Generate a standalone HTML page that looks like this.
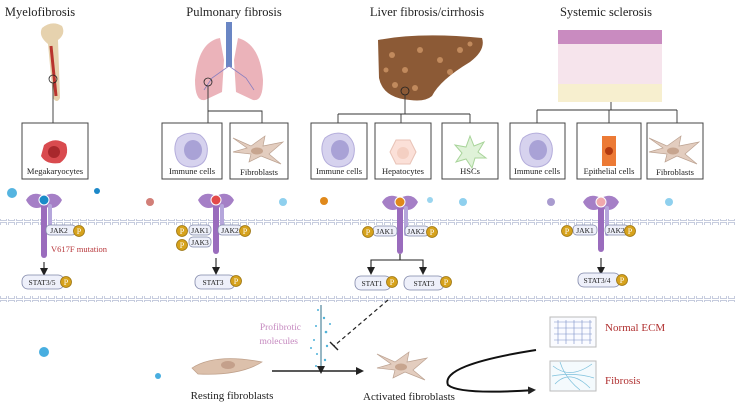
<!DOCTYPE html>
<html><head><meta charset="utf-8"><style>
body{margin:0;background:#fff}
svg{display:block;font-family:"Liberation Serif",serif}
</style></head><body>
<svg width="736" height="410" viewBox="0 0 736 410" xmlns="http://www.w3.org/2000/svg">
<defs>
<marker id="ah" markerWidth="8" markerHeight="8" refX="6" refY="4" orient="auto" markerUnits="userSpaceOnUse"><path d="M0,0 L8,4 L0,8 z" fill="#222"/></marker>
<pattern id="mem" width="8" height="6" patternUnits="userSpaceOnUse"><rect x="0.5" y="0.5" width="6" height="4" fill="none" stroke="#b8bfd6" stroke-width="0.8"/></pattern>
<g id="imm"><path d="M-14,-12 Q-4,-20 8,-15 Q17,-8 15,4 Q13,16 0,17 Q-13,17 -16,6 Q-19,-4 -14,-12z" fill="#d6d2ee" stroke="#b4addb"/><ellipse cx="1" cy="0" rx="9" ry="10" fill="#a9a2d6"/></g>
<g id="fib"><path d="M-26,-12 L-8,-4 L6,-14 L4,-4 L24,-8 L10,4 L22,14 L2,6 L-10,12 L-8,4 L-26,2 L-12,-2z" fill="#e3cdbf" stroke="#bca291" stroke-width="0.7"/><ellipse cx="-2" cy="1" rx="6" ry="3.5" fill="#c7a58f"/></g>
<g id="P"><circle r="5.5" fill="#d6a21c" stroke="#9c7410" stroke-width="0.8"/><text y="3" text-anchor="middle" font-size="8" fill="#fff">P</text></g>
</defs>

<g font-size="12.5" fill="#222" text-anchor="middle">
<text x="40" y="16">Myelofibrosis</text>
<text x="234" y="16">Pulmonary fibrosis</text>
<text x="427" y="16">Liver fibrosis/cirrhosis</text>
<text x="606" y="16">Systemic sclerosis</text>
</g>

<!-- bone -->
<path d="M42,28 Q52,20 62,26 Q66,34 58,40 L60,98 Q57,104 53,98 L48,44 Q38,36 42,28z" fill="#e6d2ae"/>
<path d="M51,46 L56,96" stroke="#b8342e" stroke-width="3"/>
<circle cx="53" cy="79" r="4" fill="none" stroke="#222" stroke-width="0.8"/>
<!-- lungs -->
<rect x="226" y="22" width="6" height="45" fill="#6a86c4"/>
<path d="M220,38 Q198,42 195,80 Q195,102 205,100 L222,92 L224,60z" fill="#ebb3ba"/>
<path d="M238,38 Q260,44 263,80 Q263,102 253,100 L236,92 L234,60z" fill="#ebb3ba"/>
<path d="M229,66 L212,78 L204,90 M229,66 L246,78 L254,90" stroke="#8a7fc0" stroke-width="0.8" fill="none"/>
<circle cx="208" cy="82" r="4" fill="none" stroke="#222" stroke-width="0.8"/>
<!-- liver -->
<path d="M378,40 Q420,32 482,38 Q486,50 470,62 Q440,80 432,96 Q425,102 410,100 Q383,98 379,78z" fill="#8c5a36"/>
<g fill="#c18a5d"><circle cx="392" cy="55" r="3"/><circle cx="405" cy="70" r="3"/><circle cx="420" cy="50" r="3"/><circle cx="440" cy="60" r="3"/><circle cx="460" cy="50" r="3"/><circle cx="395" cy="85" r="3"/><circle cx="415" cy="88" r="3"/><circle cx="450" cy="72" r="3"/><circle cx="470" cy="44" r="2.5"/><circle cx="386" cy="70" r="2.5"/></g>
<circle cx="405" cy="91" r="4" fill="none" stroke="#222" stroke-width="0.8"/>
<!-- skin -->
<rect x="558" y="30" width="104" height="14" fill="#c98bc0"/>
<rect x="558" y="44" width="104" height="40" fill="#f6e4ec"/>
<rect x="558" y="84" width="104" height="18" fill="#f7efcf"/>

<g stroke="#333" stroke-width="0.9" fill="none">
<path d="M53,83 V123"/>
<path d="M208,86 V111 M208,111 H262 V123 M208,111 V123"/>
<path d="M405,95 V114 M338,114 H470 M338,114 V123 M401,114 V123 M470,114 V123"/>
<path d="M611,102 V110 M537,110 H677 M537,110 V123 M609,110 V123 M677,110 V123"/>
</g>
<g fill="#fff" stroke="#444" stroke-width="1">
<rect x="22" y="123" width="66" height="56"/>
<rect x="162" y="123" width="60" height="56"/>
<rect x="230" y="123" width="58" height="56"/>
<rect x="311" y="123" width="56" height="56"/>
<rect x="375" y="123" width="56" height="56"/>
<rect x="442" y="123" width="56" height="56"/>
<rect x="510" y="123" width="55" height="56"/>
<rect x="577" y="123" width="64" height="56"/>
<rect x="647" y="123" width="56" height="56"/>
</g>
<g><path d="M44,145 Q55,136 66,144 Q70,156 60,163 Q46,165 41,156z" fill="#d94b4f"/><circle cx="54" cy="152" r="6" fill="#a8282c"/></g>
<use href="#imm" x="192" y="150"/><use href="#fib" x="259" y="150"/>
<use href="#imm" x="339" y="150"/>
<path d="M396,140 L410,140 L416,152 L410,164 L396,164 L390,152z" fill="#fbe0d8" stroke="#e8c2b6"/><circle cx="403" cy="153" r="6" fill="#f4cfc2"/>
<path d="M470,136 L474,146 L484,142 L478,152 L486,158 L475,158 L472,168 L466,159 L456,162 L462,153 L455,145 L466,147z" fill="#dff2d8" stroke="#a8d49a"/>
<use href="#imm" x="537" y="150"/>
<rect x="602" y="136" width="14" height="30" fill="#ec7a35"/><circle cx="609" cy="151" r="4" fill="#b33a10"/>
<use href="#fib" x="675" y="150"/>
<g font-size="8.5" fill="#222" text-anchor="middle">
<text x="55" y="174">Megakaryocytes</text>
<text x="192" y="174">Immune cells</text>
<text x="259" y="175">Fibroblasts</text>
<text x="339" y="174">Immune cells</text>
<text x="403" y="174">Hepatocytes</text>
<text x="470" y="174">HSCs</text>
<text x="537" y="174">Immune cells</text>
<text x="609" y="174">Epithelial cells</text>
<text x="675" y="175">Fibroblasts</text>
</g>

<rect x="0" y="219" width="736" height="6" fill="url(#mem)"/>
<rect x="0" y="296" width="736" height="6" fill="url(#mem)"/>

<g><circle cx="12" cy="193" r="5" fill="#55b4e0"/><circle cx="97" cy="191" r="3" fill="#1c88c8"/><circle cx="150" cy="202" r="4" fill="#d27f78"/><circle cx="283" cy="202" r="4" fill="#8fd0ee"/><circle cx="324" cy="201" r="4" fill="#e0891b"/><circle cx="430" cy="200" r="3" fill="#9ad5ef"/><circle cx="463" cy="202" r="4" fill="#8fd0ee"/><circle cx="551" cy="202" r="4" fill="#a99bcf"/><circle cx="669" cy="202" r="4" fill="#8fd0ee"/><circle cx="44" cy="352" r="5" fill="#48aee0"/><circle cx="158" cy="376" r="3" fill="#48aee0"/></g>

<g>
<path d="M26,200 Q32,190 44,196 Q56,190 62,200 Q56,212 44,206 Q32,212 26,200z" fill="#a57fc6"/>
<rect x="41" y="204" width="6" height="54" rx="3" fill="#9a6cbd"/><rect x="48" y="204" width="4" height="30" rx="2" fill="#b5a6db"/>
<circle cx="44" cy="200" r="5" fill="#1a8bc8" stroke="#fff"/>
<path d="M198,200 Q204,190 216,196 Q228,190 234,200 Q228,212 216,206 Q204,212 198,200z" fill="#a57fc6"/>
<rect x="213" y="204" width="6" height="50" rx="3" fill="#9a6cbd"/><rect x="220" y="204" width="4" height="30" rx="2" fill="#b5a6db"/>
<circle cx="216" cy="200" r="5" fill="#e24a4a" stroke="#fff"/>
<path d="M382,202 Q388,192 400,198 Q412,192 418,202 Q412,214 400,208 Q388,214 382,202z" fill="#a57fc6"/>
<rect x="397" y="206" width="6" height="48" rx="3" fill="#9a6cbd"/><rect x="404" y="206" width="4" height="30" rx="2" fill="#b5a6db"/>
<circle cx="400" cy="202" r="5" fill="#e0891b" stroke="#fff"/>
<path d="M583,202 Q589,192 601,198 Q613,192 619,202 Q613,214 601,208 Q589,214 583,202z" fill="#a57fc6"/>
<rect x="598" y="206" width="6" height="46" rx="3" fill="#9a6cbd"/><rect x="605" y="206" width="4" height="30" rx="2" fill="#b5a6db"/>
<circle cx="601" cy="202" r="5" fill="#f0a8ad" stroke="#fff"/>
</g>
<g fill="#eef0fa" stroke="#7f86a8" stroke-width="0.7">
<rect x="46" y="225" width="30" height="10" rx="4"/>
<rect x="189" y="225" width="22" height="10" rx="4"/><rect x="189" y="237" width="22" height="10" rx="4"/><rect x="218" y="225" width="24" height="10" rx="4"/>
<rect x="373" y="226" width="24" height="10" rx="4"/><rect x="405" y="226" width="24" height="10" rx="4"/>
<rect x="573" y="225" width="24" height="10" rx="4"/><rect x="605" y="225" width="24" height="10" rx="4"/>
</g>
<g font-size="7.5" fill="#222" text-anchor="middle">
<text x="59" y="233">JAK2</text><text x="200" y="233">JAK1</text><text x="200" y="245">JAK3</text><text x="230" y="233">JAK2</text>
<text x="385" y="234">JAK1</text><text x="416" y="234">JAK2</text><text x="585" y="233">JAK1</text><text x="616" y="233">JAK2</text>
</g>
<use href="#P" x="79" y="231"/><use href="#P" x="182" y="231"/><use href="#P" x="182" y="245"/><use href="#P" x="245" y="231"/>
<use href="#P" x="368" y="232"/><use href="#P" x="432" y="232"/><use href="#P" x="567" y="231"/><use href="#P" x="630" y="231"/>
<text x="51" y="252" font-size="8.5" fill="#b8383c">V617F mutation</text>

<g stroke="#222" stroke-width="1.1" fill="none" marker-end="url(#ah)">
<path d="M44,262 V274"/><path d="M216,258 V273"/><path d="M601,258 V273"/>
<path d="M400,254 V260 H371 V273"/><path d="M400,260 H423 V273"/>
</g>
<g fill="#eef0fa" stroke="#7f86a8" stroke-width="0.8">
<rect x="22" y="275" width="42" height="14" rx="6"/><rect x="195" y="275" width="40" height="14" rx="6"/>
<rect x="355" y="276" width="36" height="14" rx="6"/><rect x="404" y="276" width="40" height="14" rx="6"/>
<rect x="578" y="273" width="42" height="14" rx="6"/>
</g>
<g font-size="7.5" fill="#222" text-anchor="middle">
<text x="42" y="285">STAT3/5</text><text x="213" y="285">STAT3</text><text x="372" y="286">STAT1</text><text x="424" y="286">STAT3</text><text x="597" y="283">STAT3/4</text>
</g>
<use href="#P" x="66" y="282"/><use href="#P" x="236" y="281"/><use href="#P" x="392" y="282"/><use href="#P" x="446" y="282"/><use href="#P" x="622" y="280"/>

<text x="301" y="330" font-size="9.5" fill="#c68ac0" text-anchor="end">Profibrotic</text>
<text x="298" y="344" font-size="9.5" fill="#c68ac0" text-anchor="end">molecules</text>
<g fill="#4fb2d8"><circle cx="318" cy="310" r="1"/><circle cx="324" cy="318" r="1.2"/><circle cx="316" cy="326" r="1"/><circle cx="326" cy="332" r="1.3"/><circle cx="314" cy="340" r="1"/><circle cx="327" cy="346" r="1.2"/><circle cx="317" cy="354" r="1"/><circle cx="325" cy="360" r="1.2"/><circle cx="316" cy="366" r="1"/><circle cx="330" cy="324" r="1"/><circle cx="311" cy="348" r="1"/></g>
<path d="M321,305 V372" stroke="#2f6f8a" stroke-width="1" marker-end="url(#ah)"/>
<path d="M388,300 L334,346" stroke="#222" stroke-width="1.2" stroke-dasharray="4,3"/>
<path d="M330,342 L338,350" stroke="#222" stroke-width="1.4"/>
<path d="M192,368 Q215,353 262,362 Q240,376 198,374z" fill="#dcc0ab" stroke="#bfa08a" stroke-width="0.7"/><ellipse cx="228" cy="365" rx="7" ry="4" fill="#c4a08b"/>
<use href="#fib" x="403" y="366"/>
<path d="M272,371 H362" stroke="#222" stroke-width="1.4" marker-end="url(#ah)"/>
<path d="M536,350 Q440,365 448,385 Q460,395 534,390" stroke="#111" stroke-width="2" fill="none" marker-end="url(#ah)"/>
<g font-size="11" fill="#222" text-anchor="middle"><text x="232" y="399">Resting fibroblasts</text><text x="409" y="400">Activated fibroblasts</text></g>
<rect x="550" y="317" width="46" height="30" fill="#fafbff" stroke="#bbb"/>
<path d="M554,322 H592 M554,328 H592 M554,334 H592 M554,340 H592 M558,320 V344 M566,320 V344 M574,320 V344 M582,320 V344 M590,320 V344" stroke="#7a8fc8" stroke-width="0.6"/>
<rect x="550" y="361" width="46" height="30" fill="#f4fafd" stroke="#bbb"/>
<path d="M553,366 Q570,380 592,364 M555,384 Q570,368 590,388 M560,362 Q565,378 580,390 M552,376 Q575,372 594,378" stroke="#7cc0dc" stroke-width="0.7" fill="none"/>
<text x="605" y="331" font-size="11" fill="#b03030">Normal ECM</text>
<text x="605" y="384" font-size="11" fill="#b03030">Fibrosis</text>
</svg>
</body></html>
